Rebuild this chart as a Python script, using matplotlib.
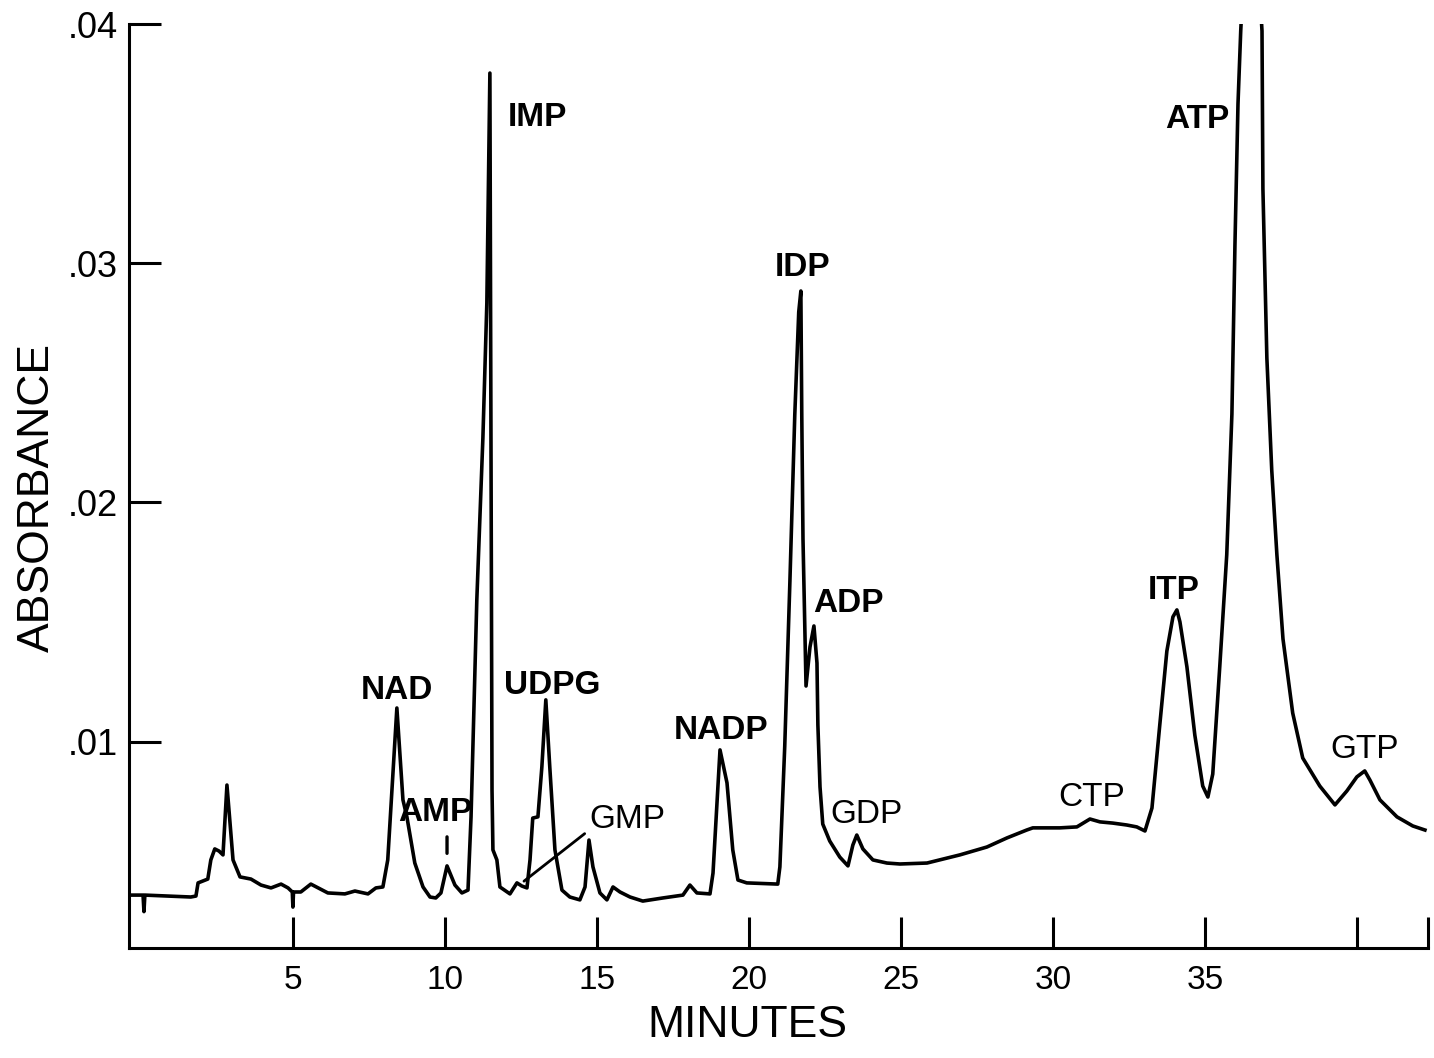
import matplotlib
matplotlib.use('Agg')
import matplotlib.pyplot as plt
import numpy as np

plt.rcParams['font.family'] = ['Liberation Sans', 'DejaVu Sans']

# chromatogram trace (minutes, absorbance)
minutes = [-0.43, 0.07, 0.10, 0.13, 1.64, 1.81, 1.88, 2.20, 2.30, 2.43,
           2.57, 2.70, 2.83, 3.03, 3.26, 3.62, 3.95, 4.28, 4.61, 4.84,
           4.98, 5.00, 5.02, 5.26, 5.59, 6.15, 6.71, 7.04, 7.47, 7.73,
           7.96, 8.12, 8.42, 8.62, 8.75, 9.01, 9.28, 9.51, 9.70, 9.87,
           10.07, 10.33, 10.56, 10.76, 10.86, 11.05, 11.25, 11.38, 11.48, 11.55,
           11.58, 11.71, 11.81, 12.14, 12.37, 12.53, 12.70, 12.80, 12.89, 13.06,
           13.19, 13.32, 13.45, 13.62, 13.85, 14.11, 14.44, 14.61, 14.74, 14.87,
           15.10, 15.33, 15.53, 15.76, 16.09, 16.51, 17.17, 17.83, 18.06, 18.29,
           18.72, 18.82, 19.05, 19.28, 19.47, 19.64, 19.93, 20.95, 21.02, 21.18,
           21.35, 21.51, 21.64, 21.71, 21.74, 21.78, 21.88, 22.01, 22.14, 22.24,
           22.27, 22.34, 22.43, 22.66, 22.99, 23.26, 23.42, 23.55, 23.75, 24.08,
           24.54, 24.97, 25.86, 26.94, 27.83, 28.49, 29.14, 29.34, 30.23, 30.79,
           31.22, 31.55, 31.97, 32.43, 32.76, 33.03, 33.26, 33.52, 33.75, 33.95,
           34.08, 34.18, 34.41, 34.67, 34.93, 35.10, 35.26, 35.49, 35.72, 35.89,
           35.99, 36.09, 36.18, 36.50, 36.88, 36.91, 37.04, 37.20, 37.37, 37.57,
           37.89, 38.22, 38.78, 39.28, 39.67, 40.00, 40.26, 40.43, 40.76, 41.32,
           41.84, 42.24]
absorbance = [0.00359, 0.00359, 0.00290, 0.00359, 0.00351, 0.00355, 0.00410, 0.00426, 0.00506, 0.00552,
              0.00543, 0.00527, 0.00819, 0.00506, 0.00435, 0.00426, 0.00401, 0.00389, 0.00405, 0.00389,
              0.00372, 0.00309, 0.00372, 0.00372, 0.00405, 0.00368, 0.00364, 0.00376, 0.00364, 0.00389,
              0.00393, 0.00506, 0.01141, 0.00757, 0.00686, 0.00493, 0.00393, 0.00351, 0.00347, 0.00368,
              0.00481, 0.00401, 0.00368, 0.00380, 0.00686, 0.01593, 0.02270, 0.02834, 0.03795, 0.00798,
              0.00548, 0.00506, 0.00393, 0.00364, 0.00410, 0.00397, 0.00389, 0.00506, 0.00681, 0.00686,
              0.00895, 0.01175, 0.00895, 0.00548, 0.00380, 0.00351, 0.00339, 0.00393, 0.00589, 0.00477,
              0.00368, 0.00339, 0.00393, 0.00372, 0.00351, 0.00334, 0.00347, 0.00359, 0.00401, 0.00368,
              0.00364, 0.00451, 0.00966, 0.00828, 0.00548, 0.00422, 0.00410, 0.00405, 0.00477, 0.00982,
              0.01672, 0.02366, 0.02796, 0.02884, 0.02366, 0.01848, 0.01233, 0.01396, 0.01484, 0.01329,
              0.01070, 0.00811, 0.00656, 0.00585, 0.00518, 0.00481, 0.00568, 0.00610, 0.00552, 0.00506,
              0.00493, 0.00489, 0.00493, 0.00527, 0.00560, 0.00598, 0.00631, 0.00640, 0.00640, 0.00644,
              0.00677, 0.00665, 0.00660, 0.00652, 0.00644, 0.00627, 0.00723, 0.01074, 0.01379, 0.01522,
              0.01551, 0.01501, 0.01313, 0.01028, 0.00815, 0.00769, 0.00865, 0.01313, 0.01781, 0.02370,
              0.03077, 0.03666, 0.03971, 0.04800, 0.03971, 0.03311, 0.02604, 0.02136, 0.01781, 0.01430,
              0.01120, 0.00932, 0.00815, 0.00736, 0.00794, 0.00853, 0.00878, 0.00840, 0.00757, 0.00686,
              0.00648, 0.00631]

# peak labels (name, minutes, absorbance, bold?)
peak_names = ['NAD', 'AMP', 'IMP', 'UDPG', 'GMP', 'NADP', 'IDP', 'ADP', 'GDP', 'CTP', 'ITP', 'ATP', 'GTP']
peak_x = [8.42, 9.70, 13.03, 13.52, 15.99, 19.08, 21.78, 23.29, 23.88, 31.28, 33.98, 34.74, 40.26]
peak_y = [0.01216, 0.00706, 0.03611, 0.01237, 0.00673, 0.01049, 0.02984, 0.01576, 0.00694, 0.00769, 0.01634, 0.03599, 0.00966]
peak_bold = [True, True, True, True, False, True, True, True, False, False, True, True, False]

x_ticks = [5, 10, 15, 20, 25, 30, 35, 40, 42.34]
x_ticklabels = ['5', '10', '15', '20', '25', '30', '35', '', '']
y_ticks = [0.01, 0.02, 0.03, 0.04]
y_ticklabels = ['.01', '.02', '.03', '.04']

fig = plt.figure(figsize=(14.34, 10.58), dpi=100)
ax = fig.add_axes([0.09, 0.104, 0.9058, 0.8733])

ax.plot(minutes, absorbance, color='k', lw=2.6, solid_joinstyle='round')

for name, px, py, b in zip(peak_names, peak_x, peak_y, peak_bold):
    ax.text(px, py, name, ha='center', va='center', fontsize=24,
            fontweight='bold' if b else 'normal')

# little marker under AMP and the pointer line for GMP
ax.annotate('', xy=(10.07, 0.00522), xytext=(10.07, 0.00614),
            arrowprops=dict(arrowstyle='-', lw=2.4, color='k'))
ax.annotate('', xy=(12.53, 0.00410), xytext=(14.67, 0.00623),
            arrowprops=dict(arrowstyle='-', lw=2.0, color='k'))

#Decorate
ax.set_xlim(-0.39, 42.34)
ax.set_ylim(0.00138, 0.04)
ax.set_xticks(x_ticks)
ax.set_xticklabels(x_ticklabels)
ax.set_yticks(y_ticks)
ax.set_yticklabels(y_ticklabels)
ax.tick_params(axis='x', direction='in', length=22, width=2.2, labelsize=24, pad=12)
ax.tick_params(axis='y', direction='in', length=23, width=2.2, labelsize=26, pad=8)
for s in ['top', 'right']:
    ax.spines[s].set_visible(False)
for s in ['left', 'bottom']:
    ax.spines[s].set_linewidth(2.2)

ax.set_xlabel('MINUTES', fontsize=32)
ax.set_ylabel('ABSORBANCE', fontsize=32)
ax.xaxis.set_label_coords(0.476, -0.062)
ax.yaxis.set_label_coords(-0.055, 0.488)

fig.savefig('out.png', dpi=100)
